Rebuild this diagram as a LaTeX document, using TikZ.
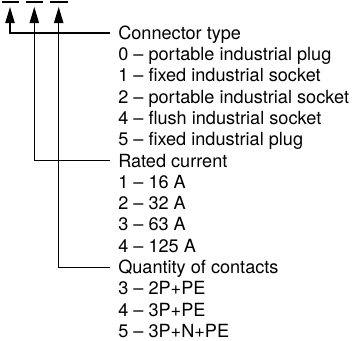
\documentclass[tikz,border=0pt]{standalone}
\usepackage{fontspec}
\setmainfont{TeX Gyre Heros}
\usetikzlibrary{arrows.meta}

\begin{document}
\begin{tikzpicture}[x=0.75pt, y=-0.75pt,
  lbl/.style={anchor=west, inner xsep=6pt, inner ysep=0pt,
              text height=9.4pt, text depth=0pt,
              font=\fontsize{13.6}{15}\selectfont},
  farr/.style={-{Triangle[length=12pt, width=7pt]}, line width=0.8pt},
  digit/.style={line width=0.8pt}
]
\useasboundingbox (0,0) rectangle (353,340);

% Digit places
\draw[digit] (1.5,2) -- (19,2);
\draw[digit] (26,2)  -- (43,2);
\draw[digit] (50,2)  -- (68,2);
\coordinate (tipa) at (10,7);
\coordinate (tipb) at (34.3,7);
\coordinate (tipc) at (58.7,7);

% Connector type
\node[lbl] (ctype) at (110, 33.0) {Connector type};
\node[lbl] (ct0)   at (110, 54.3) {0 – portable industrial plug};
\node[lbl] (ct1)   at (110, 75.6) {1 – fixed industrial socket};
\node[lbl] (ct2)   at (110, 96.9) {2 – portable industrial socket};
\node[lbl] (ct4)   at (110,118.2) {4 – flush industrial socket};
\node[lbl] (ct5)   at (110,139.5) {5 – fixed industrial plug};

% Rated current
\node[lbl] (rcur)  at (110,160.8) {Rated current};
\node[lbl] (rc1)   at (110,182.1) {1 – 16 A};
\node[lbl] (rc2)   at (110,203.4) {2 – 32 A};
\node[lbl] (rc3)   at (110,224.7) {3 – 63 A};
\node[lbl] (rc4)   at (110,246.0) {4 – 125 A};

% Quantity of contacts
\node[lbl] (qcon)  at (110,267.3) {Quantity of contacts};
\node[lbl] (qc3)   at (110,288.6) {3 – 2P+PE};
\node[lbl] (qc4)   at (110,309.9) {4 – 3P+PE};
\node[lbl] (qc5)   at (110,331.2) {5 – 3P+N+PE};

% Arrows
\draw[farr] (ctype.west) -| (tipa);
\draw[farr] (rcur.west)  -| (tipb);
\draw[farr] (qcon.west)  -| (tipc);
\end{tikzpicture}
\end{document}
